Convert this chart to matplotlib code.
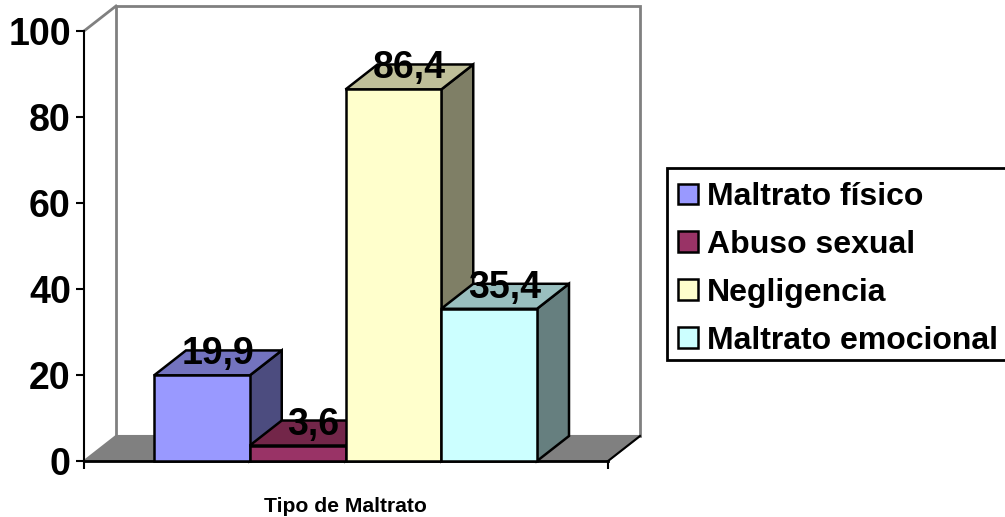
import matplotlib
matplotlib.use("Agg")
import matplotlib.pyplot as plt
from matplotlib.patches import Polygon, Patch, Rectangle

plt.rcParams['font.family'] = ['Liberation Sans', 'DejaVu Sans']
plt.rcParams['font.weight'] = 'bold'

categories = ["Maltrato físico", "Abuso sexual", "Negligencia", "Maltrato emocional"]
values = [19.9, 3.6, 86.4, 35.4]
value_labels = ["19,9", "3,6", "86,4", "35,4"]
colors = ["#9999FF", "#993366", "#FFFFCC", "#CCFFFF"]
top_colors = ["#7373BF", "#732649", "#BFBF99", "#99BFBF"]
side_colors = ["#4C4C7F", "#4C1933", "#7F7F66", "#667F7F"]
yticks = [0, 20, 40, 60, 80, 100]
xlabel = "Tipo de Maltrato"

W, H = 1005, 517
fig = plt.figure(figsize=(W / 100, H / 100), dpi=100, facecolor="white")
ax = fig.add_axes([84 / W, (H - 461) / H, 524 / W, 430 / H])
ax.set_facecolor("none")

bw_px = 95.75
xmin, xmax = -70 / bw_px, 454 / bw_px
ax.set_xlim(xmin, xmax)
ax.set_ylim(0, 100)
dx = 32 / bw_px
dy = 25 / 4.3
GREY = "#808080"

# back wall, side wall and floor
ax.add_patch(Polygon([(xmin + dx, dy), (xmin + dx, 100 + dy), (xmax + dx, 100 + dy), (xmax + dx, dy)],
                     closed=True, fc="white", ec=GREY, lw=2, clip_on=False, zorder=1))
ax.plot([xmin, xmin + dx], [100, 100 + dy], color=GREY, lw=2, clip_on=False, zorder=1)
ax.add_patch(Polygon([(xmin, 0), (xmin + dx, dy), (xmax + dx, dy), (xmax, 0)],
                     closed=True, fc=GREY, ec=GREY, lw=1.5, clip_on=False, zorder=1.2))
ax.plot([xmax, xmax + dx], [0, dy], color="black", lw=1.5, clip_on=False, zorder=1.3)

for i, v in enumerate(values):
    x0, x1 = i, i + 1
    kw = dict(closed=True, ec="black", lw=1.8, joinstyle="miter", clip_on=False, zorder=3 + i)
    ax.add_patch(Polygon([(x1, 0), (x1 + dx, dy), (x1 + dx, v + dy), (x1, v)], fc=side_colors[i], **kw))
    ax.add_patch(Polygon([(x0, v), (x0 + dx, v + dy), (x1 + dx, v + dy), (x1, v)], fc=top_colors[i], **kw))
    ax.add_patch(Polygon([(x0, 0), (x1, 0), (x1, v), (x0, v)], fc=colors[i], **kw))
    ax.text(i + 0.5 + dx / 2, v + dy, value_labels[i], ha="center", va="center_baseline",
            fontsize=27, fontweight="bold", color="black", zorder=10, clip_on=False)

for s in ("top", "right"):
    ax.spines[s].set_visible(False)
ax.spines["left"].set_linewidth(1.5)
ax.spines["bottom"].set_linewidth(2)
ax.spines["left"].set_zorder(2.5)
ax.spines["bottom"].set_zorder(2.5)
ax.set_yticks(yticks)
ax.set_yticklabels([str(t) for t in yticks], fontsize=27, fontweight="bold")
ax.set_xticks([xmin, xmax])
ax.set_xticklabels(["", ""])
ax.tick_params(axis="both", length=6, width=1.5, color="black", pad=3.5)

fig.text(345.5 / W, 1 - 506 / H, xlabel, ha="center", va="center", fontsize=15.2, fontweight="bold")

fig.add_artist(Rectangle((667 / W, 1 - 360 / H), 345 / W, 192 / H, transform=fig.transFigure,
                         fc="white", ec="black", lw=2))
handles = [Patch(fc=c, ec="black", lw=1.8) for c in colors]
leg = fig.legend(handles, categories, loc="upper left", bbox_to_anchor=(667 / W, 1 - 171 / H),
                 borderaxespad=0, frameon=False,
                 prop={"size": 23, "weight": "bold"}, handlelength=0.62, handleheight=0.62,
                 handletextpad=0.27, labelspacing=0.56, borderpad=0.35)

fig.savefig("out.png", dpi=100, facecolor="white")
